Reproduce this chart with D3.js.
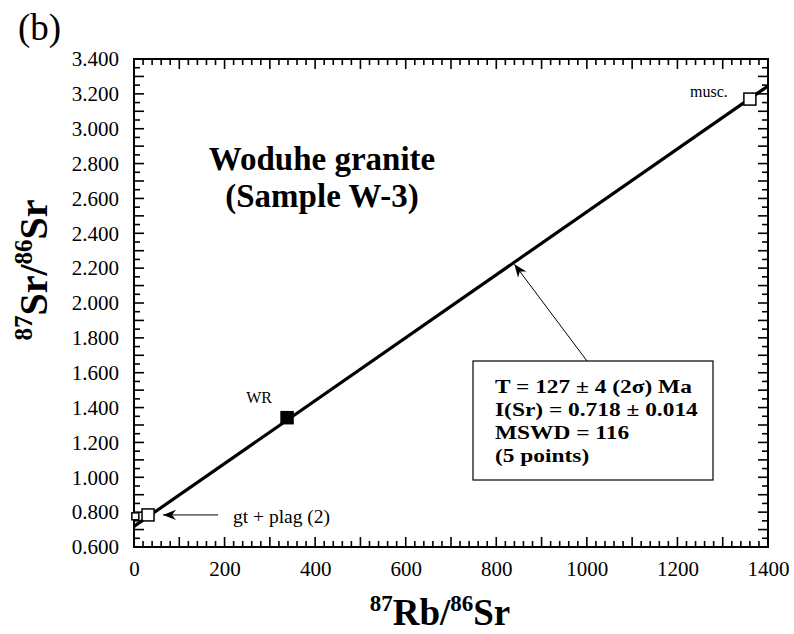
<!DOCTYPE html>
<html><head><meta charset="utf-8">
<script src="https://cdn.jsdelivr.net/npm/d3@7"></script>
<style>body{margin:0;background:#fff}svg{display:block}text{font-family:"Liberation Serif","Times New Roman",serif;fill:#000}</style>
</head><body>
<script>
// Data
const xTicks = [0,200,400,600,800,1000,1200,1400];
const yTicks = [0.6,0.8,1.0,1.2,1.4,1.6,1.8,2.0,2.2,2.4,2.6,2.8,3.0,3.2,3.4];
const pointNames = ["gt","plag","WR","musc."];
const rbSr = [3, 31, 338, 1360];
const srSr = [0.776, 0.784, 1.342, 3.170];
const pointFilled = [false, false, true, false];
const isochronX = [0, 1400];
const isochronY = [0.718, 3.245];
const resultLines = ["T = 127 \u00b1 4 (2\u03c3) Ma", "I(Sr) = 0.718 \u00b1 0.014", "MSWD = 116", "(5 points)"];

const W = 794, H = 634;
const m = {l:134, r:768, t:59, b:547};
const svg = d3.select("body").append("svg").attr("width",W).attr("height",H);
const x = d3.scaleLinear().domain([0,1400]).range([m.l,m.r]);
const y = d3.scaleLinear().domain([0.6,3.4]).range([m.b,m.t]);

// minor / major ticks all four sides
const xMinor = d3.range(0,1401,20), yMinor = d3.range(0,57).map(i=>+(0.6+i*0.05).toFixed(2));
const isMajX = v => v % 100 === 0;
const isMajY = v => Math.abs(Math.round(v*10) - v*10) < 1e-6;
const tg = svg.append("g").attr("stroke","#000").attr("stroke-width",1.6);
xMinor.forEach(v=>{
  const L = isMajX(v)?10:6;
  tg.append("line").attr("x1",x(v)).attr("x2",x(v)).attr("y1",m.b).attr("y2",m.b-L);
  tg.append("line").attr("x1",x(v)).attr("x2",x(v)).attr("y1",m.t).attr("y2",m.t+L);
});
yMinor.forEach(v=>{
  const L = isMajY(v)?10:6;
  tg.append("line").attr("y1",y(v)).attr("y2",y(v)).attr("x1",m.l).attr("x2",m.l+L);
  tg.append("line").attr("y1",y(v)).attr("y2",y(v)).attr("x1",m.r).attr("x2",m.r-L);
});
svg.append("rect").attr("x",m.l).attr("y",m.t).attr("width",m.r-m.l).attr("height",m.b-m.t)
  .attr("fill","none").attr("stroke","#000").attr("stroke-width",2);

// axis labels via d3 axes (no ticks drawn)
const xa = svg.append("g").attr("transform",`translate(0,${m.b})`)
  .call(d3.axisBottom(x).tickValues(xTicks).tickSize(0).tickPadding(14).tickFormat(d3.format("d")));
xa.select(".domain").remove();
xa.selectAll("text").attr("font-size",21).attr("font-family","Liberation Serif");
const ya = svg.append("g").attr("transform",`translate(${m.l},0)`)
  .call(d3.axisLeft(y).tickValues(yTicks).tickSize(0).tickPadding(15).tickFormat(d3.format(".3f")));
ya.select(".domain").remove();
ya.selectAll("text").attr("font-size",21).attr("font-family","Liberation Serif");

// isochron line
svg.append("line").attr("x1",x(isochronX[0])).attr("y1",y(isochronY[0]))
  .attr("x2",x(isochronX[1])).attr("y2",y(isochronY[1]))
  .attr("stroke","#000").attr("stroke-width",3.2);

// points
const sizes = [7,12,12,12];
svg.selectAll("rect.pt").data(rbSr).join("rect").attr("class","pt")
  .attr("x",(d,i)=>x(d)-sizes[i]/2).attr("y",(d,i)=>y(srSr[i])-sizes[i]/2)
  .attr("width",(d,i)=>sizes[i]).attr("height",(d,i)=>sizes[i])
  .attr("fill",(d,i)=>pointFilled[i]?"#000":"#fff").attr("stroke","#000").attr("stroke-width",1.5);

// point labels
svg.append("text").attr("x",x(rbSr[2])-28).attr("y",y(srSr[2])-15).attr("font-size",16).attr("text-anchor","middle").text("WR");
svg.append("text").attr("x",x(rbSr[3])-22).attr("y",y(srSr[3])-2).attr("font-size",16).attr("text-anchor","end").text("musc.");
svg.append("text").attr("x",233).attr("y",y(srSr[1])+8).attr("font-size",19.5).text("gt + plag (2)");

// arrows
function arrow(x1,y1,x2,y2){
  svg.append("line").attr("x1",x1).attr("y1",y1).attr("x2",x2).attr("y2",y2).attr("stroke","#000").attr("stroke-width",1);
  const a = Math.atan2(y2-y1,x2-x1), L=14, s=0.38;
  const p1=[x2-L*Math.cos(a-s), y2-L*Math.sin(a-s)], p2=[x2-L*Math.cos(a+s), y2-L*Math.sin(a+s)];
  const pb=[x2-9*Math.cos(a), y2-9*Math.sin(a)];
  svg.append("path").attr("d",`M${x2},${y2}L${p1}L${pb}L${p2}Z`).attr("fill","#000");
}
arrow(218, y(srSr[1]), 163, y(srSr[1]));
arrow(587, 361, x(840), y(0.718+840*0.001805)+2);

// results box
svg.append("rect").attr("x",473).attr("y",361).attr("width",240).attr("height",119)
  .attr("fill","#fff").attr("stroke","#000").attr("stroke-width",1.2);
svg.selectAll("text.res").data(resultLines).join("text").attr("class","res")
  .attr("transform",(d,i)=>`translate(495,${393+i*23}) scale(1.2,1)`)
  .attr("font-size",19.5).attr("font-weight","bold").text(d=>d);

// title
svg.append("text").attr("x",322).attr("y",170).attr("text-anchor","middle").attr("font-size",33).attr("font-weight","bold").text("Woduhe granite");
svg.append("text").attr("x",322).attr("y",207).attr("text-anchor","middle").attr("font-size",33).attr("font-weight","bold").text("(Sample W-3)");

// panel label
svg.append("text").attr("x",18).attr("y",40).attr("font-size",37).text("(b)");

// axis titles
function ratioLabel(g, a, b, c, d, fs, sfs){
  const t = g.append("text").attr("font-size",fs).attr("font-weight","bold").attr("text-anchor","middle");
  t.append("tspan").attr("font-size",sfs).attr("dy",-fs*0.38).text(a);
  t.append("tspan").attr("dy",fs*0.38).text(b);
  t.append("tspan").attr("font-size",sfs).attr("dy",-fs*0.38).text(c);
  t.append("tspan").attr("dy",fs*0.38).text(d);
  return t;
}
ratioLabel(svg.append("g").attr("transform","translate(440,625)"),"87","Rb/","86","Sr",37,23);
ratioLabel(svg.append("g").attr("transform","translate(47,270) rotate(-90)"),"87","Sr/","86","Sr",40,25);
</script>
</body></html>
